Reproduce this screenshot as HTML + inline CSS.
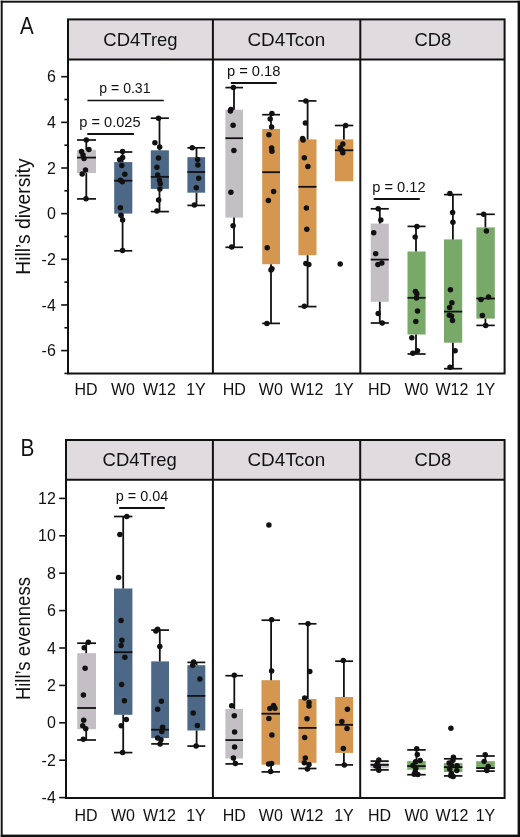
<!DOCTYPE html><html><head><meta charset="utf-8"><style>html,body{margin:0;padding:0;background:#fff;width:520px;height:837px;overflow:hidden}svg{display:block;will-change:transform}text{font-family:"Liberation Sans",sans-serif;fill:#111}</style></head><body>
<svg width="520" height="837" viewBox="0 0 520 837">
<rect x="0" y="0" width="520" height="837" fill="#fff"/>
<rect x="68" y="19.4" width="436.6" height="40.1" fill="#e0dbdf"/>
<text x="140.5" y="45.8" font-size="19" text-anchor="middle" textLength="74.3" lengthAdjust="spacingAndGlyphs">CD4Treg</text>
<text x="286.3" y="45.8" font-size="19" text-anchor="middle" textLength="77.8" lengthAdjust="spacingAndGlyphs">CD4Tcon</text>
<text x="432.8" y="45.8" font-size="19" text-anchor="middle" textLength="36.7" lengthAdjust="spacingAndGlyphs">CD8</text>
<line x1="64.4" y1="373.425" x2="68" y2="373.425" stroke="#111111" stroke-width="1.6"/>
<line x1="61.2" y1="350.6" x2="68" y2="350.6" stroke="#111111" stroke-width="1.6"/>
<text x="55.8" y="356.20000000000005" font-size="16" text-anchor="end">-6</text>
<line x1="64.4" y1="327.775" x2="68" y2="327.775" stroke="#111111" stroke-width="1.6"/>
<line x1="61.2" y1="304.95" x2="68" y2="304.95" stroke="#111111" stroke-width="1.6"/>
<text x="55.8" y="310.55" font-size="16" text-anchor="end">-4</text>
<line x1="64.4" y1="282.125" x2="68" y2="282.125" stroke="#111111" stroke-width="1.6"/>
<line x1="61.2" y1="259.3" x2="68" y2="259.3" stroke="#111111" stroke-width="1.6"/>
<text x="55.8" y="264.90000000000003" font-size="16" text-anchor="end">-2</text>
<line x1="64.4" y1="236.475" x2="68" y2="236.475" stroke="#111111" stroke-width="1.6"/>
<line x1="61.2" y1="213.65" x2="68" y2="213.65" stroke="#111111" stroke-width="1.6"/>
<text x="55.8" y="219.25" font-size="16" text-anchor="end">0</text>
<line x1="64.4" y1="190.82500000000002" x2="68" y2="190.82500000000002" stroke="#111111" stroke-width="1.6"/>
<line x1="61.2" y1="168.0" x2="68" y2="168.0" stroke="#111111" stroke-width="1.6"/>
<text x="55.8" y="173.6" font-size="16" text-anchor="end">2</text>
<line x1="64.4" y1="145.175" x2="68" y2="145.175" stroke="#111111" stroke-width="1.6"/>
<line x1="61.2" y1="122.35000000000001" x2="68" y2="122.35000000000001" stroke="#111111" stroke-width="1.6"/>
<text x="55.8" y="127.95" font-size="16" text-anchor="end">4</text>
<line x1="64.4" y1="99.525" x2="68" y2="99.525" stroke="#111111" stroke-width="1.6"/>
<line x1="61.2" y1="76.70000000000002" x2="68" y2="76.70000000000002" stroke="#111111" stroke-width="1.6"/>
<text x="55.8" y="82.30000000000001" font-size="16" text-anchor="end">6</text>
<text transform="translate(29.7,216.6) rotate(-90)" x="0" y="0" font-size="20.5" text-anchor="middle" textLength="116.4" lengthAdjust="spacingAndGlyphs">Hill’s diversity</text>
<text x="20.1" y="34.1" font-size="23" textLength="13.7" lengthAdjust="spacingAndGlyphs">A</text>
<rect x="77" y="150" width="19.00" height="23.00" fill="#c4bfc5"/>
<line x1="86.3" y1="140" x2="86.3" y2="150" stroke="#111111" stroke-width="1.8"/>
<line x1="77" y1="140" x2="96" y2="140" stroke="#111111" stroke-width="1.7"/>
<line x1="86.3" y1="173" x2="86.3" y2="198.9" stroke="#111111" stroke-width="1.8"/>
<line x1="77" y1="198.9" x2="96" y2="198.9" stroke="#111111" stroke-width="1.7"/>
<line x1="77" y1="157.6" x2="96" y2="157.6" stroke="#111111" stroke-width="1.8"/>
<circle cx="86.3" cy="140" r="2.75" fill="#111111"/>
<circle cx="88.9" cy="149.6" r="2.75" fill="#111111"/>
<circle cx="81.5" cy="151.5" r="2.75" fill="#111111"/>
<circle cx="83" cy="155" r="2.75" fill="#111111"/>
<circle cx="84" cy="158.5" r="2.75" fill="#111111"/>
<circle cx="85.5" cy="170" r="2.75" fill="#111111"/>
<circle cx="82.2" cy="174" r="2.75" fill="#111111"/>
<circle cx="86" cy="198.8" r="2.75" fill="#111111"/>
<rect x="114.2" y="162.1" width="18.10" height="51.50" fill="#4d6886"/>
<line x1="122.6" y1="152" x2="122.6" y2="162.1" stroke="#111111" stroke-width="1.8"/>
<line x1="114.2" y1="152" x2="132.3" y2="152" stroke="#111111" stroke-width="1.7"/>
<line x1="122.6" y1="213.6" x2="122.6" y2="250.8" stroke="#111111" stroke-width="1.8"/>
<line x1="114.2" y1="250.8" x2="132.3" y2="250.8" stroke="#111111" stroke-width="1.7"/>
<line x1="114.2" y1="180.7" x2="132.3" y2="180.7" stroke="#111111" stroke-width="1.8"/>
<circle cx="122.6" cy="151.4" r="2.75" fill="#111111"/>
<circle cx="122.6" cy="157.6" r="2.75" fill="#111111"/>
<circle cx="119.7" cy="159.7" r="2.75" fill="#111111"/>
<circle cx="121.8" cy="165.4" r="2.75" fill="#111111"/>
<circle cx="124.8" cy="174.3" r="2.75" fill="#111111"/>
<circle cx="120.4" cy="180.2" r="2.75" fill="#111111"/>
<circle cx="122.3" cy="181.8" r="2.75" fill="#111111"/>
<circle cx="120.4" cy="207.8" r="2.75" fill="#111111"/>
<circle cx="120.9" cy="215.3" r="2.75" fill="#111111"/>
<circle cx="122.6" cy="220" r="2.75" fill="#111111"/>
<circle cx="122.6" cy="250.5" r="2.75" fill="#111111"/>
<rect x="150.8" y="150.3" width="18.10" height="38.60" fill="#4d6886"/>
<line x1="159.5" y1="118.2" x2="159.5" y2="150.3" stroke="#111111" stroke-width="1.8"/>
<line x1="150.8" y1="118.2" x2="168.9" y2="118.2" stroke="#111111" stroke-width="1.7"/>
<line x1="159.5" y1="188.9" x2="159.5" y2="211.6" stroke="#111111" stroke-width="1.8"/>
<line x1="150.8" y1="211.6" x2="168.9" y2="211.6" stroke="#111111" stroke-width="1.7"/>
<line x1="150.8" y1="176.8" x2="168.9" y2="176.8" stroke="#111111" stroke-width="1.8"/>
<circle cx="158.5" cy="118.2" r="2.75" fill="#111111"/>
<circle cx="154.9" cy="142.8" r="2.75" fill="#111111"/>
<circle cx="159.7" cy="146.9" r="2.75" fill="#111111"/>
<circle cx="158.5" cy="158" r="2.75" fill="#111111"/>
<circle cx="156.9" cy="167.2" r="2.75" fill="#111111"/>
<circle cx="157.7" cy="175.1" r="2.75" fill="#111111"/>
<circle cx="159.4" cy="180.2" r="2.75" fill="#111111"/>
<circle cx="160.3" cy="183.8" r="2.75" fill="#111111"/>
<circle cx="159.9" cy="188.9" r="2.75" fill="#111111"/>
<circle cx="158.6" cy="199.9" r="2.75" fill="#111111"/>
<circle cx="156.9" cy="211.1" r="2.75" fill="#111111"/>
<rect x="187.4" y="157.2" width="17.70" height="35.50" fill="#4d6886"/>
<line x1="196.5" y1="147.8" x2="196.5" y2="157.2" stroke="#111111" stroke-width="1.8"/>
<line x1="187.4" y1="147.8" x2="205.1" y2="147.8" stroke="#111111" stroke-width="1.7"/>
<line x1="196.5" y1="192.7" x2="196.5" y2="205.4" stroke="#111111" stroke-width="1.8"/>
<line x1="187.4" y1="205.4" x2="205.1" y2="205.4" stroke="#111111" stroke-width="1.7"/>
<line x1="187.4" y1="172" x2="205.1" y2="172" stroke="#111111" stroke-width="1.8"/>
<circle cx="192.2" cy="147.8" r="2.75" fill="#111111"/>
<circle cx="197.6" cy="159.4" r="2.75" fill="#111111"/>
<circle cx="197.9" cy="165" r="2.75" fill="#111111"/>
<circle cx="198.7" cy="178.2" r="2.75" fill="#111111"/>
<circle cx="196.3" cy="187.8" r="2.75" fill="#111111"/>
<circle cx="194.4" cy="205" r="2.75" fill="#111111"/>
<text x="99.3" y="93.1" font-size="14" textLength="51.2" lengthAdjust="spacingAndGlyphs">p = 0.31</text>
<line x1="87.5" y1="100.5" x2="163.8" y2="100.5" stroke="#111111" stroke-width="1.7"/>
<text x="79.3" y="126.5" font-size="14" textLength="61.3" lengthAdjust="spacingAndGlyphs">p = 0.025</text>
<line x1="87.3" y1="134" x2="133.9" y2="134" stroke="#111111" stroke-width="1.9"/>
<rect x="225.4" y="109.7" width="17.60" height="107.90" fill="#c4bfc5"/>
<line x1="234" y1="87.6" x2="234" y2="109.7" stroke="#111111" stroke-width="1.8"/>
<line x1="225.4" y1="87.6" x2="243" y2="87.6" stroke="#111111" stroke-width="1.7"/>
<line x1="234" y1="217.6" x2="234" y2="247.3" stroke="#111111" stroke-width="1.8"/>
<line x1="225.4" y1="247.3" x2="243" y2="247.3" stroke="#111111" stroke-width="1.7"/>
<line x1="225.4" y1="138.2" x2="243" y2="138.2" stroke="#111111" stroke-width="1.8"/>
<circle cx="233.4" cy="87.6" r="2.75" fill="#111111"/>
<circle cx="230.9" cy="109.4" r="2.75" fill="#111111"/>
<circle cx="230.4" cy="111" r="2.75" fill="#111111"/>
<circle cx="233.1" cy="125.3" r="2.75" fill="#111111"/>
<circle cx="233.9" cy="150.4" r="2.75" fill="#111111"/>
<circle cx="230.9" cy="192.2" r="2.75" fill="#111111"/>
<circle cx="233.1" cy="225.7" r="2.75" fill="#111111"/>
<circle cx="231.7" cy="246.9" r="2.75" fill="#111111"/>
<rect x="262.2" y="129" width="17.80" height="135.20" fill="#d5974f"/>
<line x1="271" y1="114.7" x2="271" y2="129" stroke="#111111" stroke-width="1.8"/>
<line x1="262.2" y1="114.7" x2="280" y2="114.7" stroke="#111111" stroke-width="1.7"/>
<line x1="271" y1="264.2" x2="271" y2="323.4" stroke="#111111" stroke-width="1.8"/>
<line x1="262.2" y1="323.4" x2="280" y2="323.4" stroke="#111111" stroke-width="1.7"/>
<line x1="262.2" y1="172.2" x2="280" y2="172.2" stroke="#111111" stroke-width="1.8"/>
<circle cx="271.9" cy="113.6" r="2.75" fill="#111111"/>
<circle cx="270.2" cy="118.9" r="2.75" fill="#111111"/>
<circle cx="271.6" cy="127" r="2.75" fill="#111111"/>
<circle cx="268.9" cy="134.8" r="2.75" fill="#111111"/>
<circle cx="271.6" cy="147.9" r="2.75" fill="#111111"/>
<circle cx="271.9" cy="151.2" r="2.75" fill="#111111"/>
<circle cx="273.6" cy="191.5" r="2.75" fill="#111111"/>
<circle cx="268.4" cy="200.5" r="2.75" fill="#111111"/>
<circle cx="267.2" cy="247.8" r="2.75" fill="#111111"/>
<circle cx="271.9" cy="268.7" r="2.75" fill="#111111"/>
<circle cx="271" cy="270" r="2.75" fill="#111111"/>
<circle cx="266.9" cy="323.4" r="2.75" fill="#111111"/>
<rect x="298.4" y="139.4" width="18.10" height="115.80" fill="#d5974f"/>
<line x1="307.6" y1="100.9" x2="307.6" y2="139.4" stroke="#111111" stroke-width="1.8"/>
<line x1="298.4" y1="100.9" x2="316.5" y2="100.9" stroke="#111111" stroke-width="1.7"/>
<line x1="307.6" y1="255.2" x2="307.6" y2="306.6" stroke="#111111" stroke-width="1.8"/>
<line x1="298.4" y1="306.6" x2="316.5" y2="306.6" stroke="#111111" stroke-width="1.7"/>
<line x1="298.4" y1="186.8" x2="316.5" y2="186.8" stroke="#111111" stroke-width="1.8"/>
<circle cx="305.9" cy="100.9" r="2.75" fill="#111111"/>
<circle cx="305.4" cy="123.1" r="2.75" fill="#111111"/>
<circle cx="302.6" cy="138.6" r="2.75" fill="#111111"/>
<circle cx="303.1" cy="139.9" r="2.75" fill="#111111"/>
<circle cx="304.3" cy="157.8" r="2.75" fill="#111111"/>
<circle cx="307.9" cy="166.5" r="2.75" fill="#111111"/>
<circle cx="306.4" cy="208" r="2.75" fill="#111111"/>
<circle cx="306.8" cy="229.3" r="2.75" fill="#111111"/>
<circle cx="305.9" cy="263.6" r="2.75" fill="#111111"/>
<circle cx="308.8" cy="264.5" r="2.75" fill="#111111"/>
<circle cx="304.3" cy="306.3" r="2.75" fill="#111111"/>
<rect x="334.9" y="139.4" width="18.40" height="41.80" fill="#d5974f"/>
<line x1="343.9" y1="125.5" x2="343.9" y2="139.4" stroke="#111111" stroke-width="1.8"/>
<line x1="334.9" y1="125.5" x2="353.3" y2="125.5" stroke="#111111" stroke-width="1.7"/>
<line x1="334.9" y1="150.3" x2="353.3" y2="150.3" stroke="#111111" stroke-width="1.8"/>
<circle cx="345.6" cy="125.5" r="2.75" fill="#111111"/>
<circle cx="342.8" cy="143.9" r="2.75" fill="#111111"/>
<circle cx="340.2" cy="147.8" r="2.75" fill="#111111"/>
<circle cx="341.9" cy="150.3" r="2.75" fill="#111111"/>
<circle cx="342.8" cy="152.8" r="2.75" fill="#111111"/>
<circle cx="340.2" cy="264.1" r="2.75" fill="#111111"/>
<text x="226.9" y="75.6" font-size="14" textLength="53.6" lengthAdjust="spacingAndGlyphs">p = 0.18</text>
<line x1="230.8" y1="83" x2="276.7" y2="83" stroke="#111111" stroke-width="1.9"/>
<rect x="370.7" y="223.6" width="18.10" height="78.20" fill="#c4bfc5"/>
<line x1="379.8" y1="208.8" x2="379.8" y2="223.6" stroke="#111111" stroke-width="1.8"/>
<line x1="370.7" y1="208.8" x2="388.8" y2="208.8" stroke="#111111" stroke-width="1.7"/>
<line x1="379.8" y1="301.8" x2="379.8" y2="323" stroke="#111111" stroke-width="1.8"/>
<line x1="370.7" y1="323" x2="388.8" y2="323" stroke="#111111" stroke-width="1.7"/>
<line x1="370.7" y1="259.6" x2="388.8" y2="259.6" stroke="#111111" stroke-width="1.8"/>
<circle cx="378.2" cy="208.8" r="2.75" fill="#111111"/>
<circle cx="380.8" cy="219.9" r="2.75" fill="#111111"/>
<circle cx="373.7" cy="232.8" r="2.75" fill="#111111"/>
<circle cx="375.7" cy="253.7" r="2.75" fill="#111111"/>
<circle cx="377.9" cy="264.6" r="2.75" fill="#111111"/>
<circle cx="381.8" cy="262.9" r="2.75" fill="#111111"/>
<circle cx="378.2" cy="313.5" r="2.75" fill="#111111"/>
<circle cx="382.2" cy="323" r="2.75" fill="#111111"/>
<rect x="407.5" y="251.5" width="18.10" height="83.00" fill="#79a969"/>
<line x1="416" y1="226.4" x2="416" y2="251.5" stroke="#111111" stroke-width="1.8"/>
<line x1="407.5" y1="226.4" x2="425.6" y2="226.4" stroke="#111111" stroke-width="1.7"/>
<line x1="416" y1="334.5" x2="416" y2="354" stroke="#111111" stroke-width="1.8"/>
<line x1="407.5" y1="354" x2="425.6" y2="354" stroke="#111111" stroke-width="1.7"/>
<line x1="407.5" y1="297.8" x2="425.6" y2="297.8" stroke="#111111" stroke-width="1.8"/>
<circle cx="416.9" cy="226.4" r="2.75" fill="#111111"/>
<circle cx="415.2" cy="237" r="2.75" fill="#111111"/>
<circle cx="415.4" cy="291.5" r="2.75" fill="#111111"/>
<circle cx="416.8" cy="293.7" r="2.75" fill="#111111"/>
<circle cx="416.5" cy="298" r="2.75" fill="#111111"/>
<circle cx="417.5" cy="311" r="2.75" fill="#111111"/>
<circle cx="415.8" cy="321.4" r="2.75" fill="#111111"/>
<circle cx="411.8" cy="337.7" r="2.75" fill="#111111"/>
<circle cx="417.5" cy="350.7" r="2.75" fill="#111111"/>
<circle cx="412.8" cy="353.3" r="2.75" fill="#111111"/>
<rect x="444" y="239.4" width="18.20" height="103.30" fill="#79a969"/>
<line x1="452.9" y1="194.6" x2="452.9" y2="239.4" stroke="#111111" stroke-width="1.8"/>
<line x1="444" y1="194.6" x2="462.2" y2="194.6" stroke="#111111" stroke-width="1.7"/>
<line x1="452.9" y1="342.7" x2="452.9" y2="368.7" stroke="#111111" stroke-width="1.8"/>
<line x1="444" y1="368.7" x2="462.2" y2="368.7" stroke="#111111" stroke-width="1.7"/>
<line x1="444" y1="311.6" x2="462.2" y2="311.6" stroke="#111111" stroke-width="1.8"/>
<circle cx="449.9" cy="193.4" r="2.75" fill="#111111"/>
<circle cx="452.6" cy="212.6" r="2.75" fill="#111111"/>
<circle cx="452.9" cy="222.2" r="2.75" fill="#111111"/>
<circle cx="450.4" cy="289.7" r="2.75" fill="#111111"/>
<circle cx="451.9" cy="302.8" r="2.75" fill="#111111"/>
<circle cx="449.6" cy="307.4" r="2.75" fill="#111111"/>
<circle cx="449.3" cy="315.3" r="2.75" fill="#111111"/>
<circle cx="451.5" cy="316.1" r="2.75" fill="#111111"/>
<circle cx="452.5" cy="320.4" r="2.75" fill="#111111"/>
<circle cx="455.1" cy="350.7" r="2.75" fill="#111111"/>
<circle cx="450" cy="367.3" r="2.75" fill="#111111"/>
<rect x="476.4" y="227.4" width="18.40" height="91.20" fill="#79a969"/>
<line x1="485.4" y1="214.3" x2="485.4" y2="227.4" stroke="#111111" stroke-width="1.8"/>
<line x1="476.4" y1="214.3" x2="494.8" y2="214.3" stroke="#111111" stroke-width="1.7"/>
<line x1="485.4" y1="318.6" x2="485.4" y2="325.4" stroke="#111111" stroke-width="1.8"/>
<line x1="476.4" y1="325.4" x2="494.8" y2="325.4" stroke="#111111" stroke-width="1.7"/>
<line x1="476.4" y1="298.5" x2="494.8" y2="298.5" stroke="#111111" stroke-width="1.8"/>
<circle cx="483.6" cy="214.3" r="2.75" fill="#111111"/>
<circle cx="486.4" cy="231.1" r="2.75" fill="#111111"/>
<circle cx="481" cy="299.5" r="2.75" fill="#111111"/>
<circle cx="488.5" cy="297" r="2.75" fill="#111111"/>
<circle cx="482.4" cy="315.4" r="2.75" fill="#111111"/>
<circle cx="485.7" cy="325.4" r="2.75" fill="#111111"/>
<text x="372.2" y="191.8" font-size="14" textLength="53.4" lengthAdjust="spacingAndGlyphs">p = 0.12</text>
<line x1="373.7" y1="199" x2="419.8" y2="199" stroke="#111111" stroke-width="1.9"/>
<g stroke="#111111" stroke-width="2" fill="none">
<rect x="68" y="19.4" width="436.6" height="354.1"/>
<line x1="68" y1="59.5" x2="504.6" y2="59.5"/>
<line x1="212.9" y1="19.4" x2="212.9" y2="373.5"/>
<line x1="360.3" y1="19.4" x2="360.3" y2="373.5"/>
</g>
<text x="86.0" y="395" font-size="16" text-anchor="middle">HD</text>
<text x="123" y="395" font-size="16" text-anchor="middle">W0</text>
<text x="159.4" y="395" font-size="16" text-anchor="middle">W12</text>
<text x="196" y="395" font-size="16" text-anchor="middle">1Y</text>
<text x="234.3" y="395" font-size="16" text-anchor="middle">HD</text>
<text x="270.8" y="395" font-size="16" text-anchor="middle">W0</text>
<text x="306.9" y="395" font-size="16" text-anchor="middle">W12</text>
<text x="344" y="395" font-size="16" text-anchor="middle">1Y</text>
<text x="379.6" y="395" font-size="16" text-anchor="middle">HD</text>
<text x="416.5" y="395" font-size="16" text-anchor="middle">W0</text>
<text x="451.9" y="395" font-size="16" text-anchor="middle">W12</text>
<text x="485.5" y="395" font-size="16" text-anchor="middle">1Y</text>
<rect x="66" y="440" width="438.6" height="39.80000000000001" fill="#e0dbdf"/>
<text x="139.7" y="466.4" font-size="19" text-anchor="middle" textLength="74.3" lengthAdjust="spacingAndGlyphs">CD4Treg</text>
<text x="286.3" y="466.4" font-size="19" text-anchor="middle" textLength="77.8" lengthAdjust="spacingAndGlyphs">CD4Tcon</text>
<text x="432.8" y="466.4" font-size="19" text-anchor="middle" textLength="36.7" lengthAdjust="spacingAndGlyphs">CD8</text>
<line x1="59.2" y1="797.5999999999999" x2="66" y2="797.5999999999999" stroke="#111111" stroke-width="1.6"/>
<text x="55.8" y="803.1999999999999" font-size="16" text-anchor="end">-4</text>
<line x1="59.2" y1="760.1999999999999" x2="66" y2="760.1999999999999" stroke="#111111" stroke-width="1.6"/>
<text x="55.8" y="765.8" font-size="16" text-anchor="end">-2</text>
<line x1="59.2" y1="722.8" x2="66" y2="722.8" stroke="#111111" stroke-width="1.6"/>
<text x="55.8" y="728.4" font-size="16" text-anchor="end">0</text>
<line x1="59.2" y1="685.4" x2="66" y2="685.4" stroke="#111111" stroke-width="1.6"/>
<text x="55.8" y="691.0" font-size="16" text-anchor="end">2</text>
<line x1="59.2" y1="648.0" x2="66" y2="648.0" stroke="#111111" stroke-width="1.6"/>
<text x="55.8" y="653.6" font-size="16" text-anchor="end">4</text>
<line x1="59.2" y1="610.5999999999999" x2="66" y2="610.5999999999999" stroke="#111111" stroke-width="1.6"/>
<text x="55.8" y="616.1999999999999" font-size="16" text-anchor="end">6</text>
<line x1="59.2" y1="573.1999999999999" x2="66" y2="573.1999999999999" stroke="#111111" stroke-width="1.6"/>
<text x="55.8" y="578.8" font-size="16" text-anchor="end">8</text>
<line x1="59.2" y1="535.8" x2="66" y2="535.8" stroke="#111111" stroke-width="1.6"/>
<text x="55.8" y="541.4" font-size="16" text-anchor="end">10</text>
<line x1="59.2" y1="498.4" x2="66" y2="498.4" stroke="#111111" stroke-width="1.6"/>
<text x="55.8" y="504.0" font-size="16" text-anchor="end">12</text>
<text transform="translate(29.7,638.6) rotate(-90)" x="0" y="0" font-size="20.5" text-anchor="middle" textLength="123.0" lengthAdjust="spacingAndGlyphs">Hill’s evenness</text>
<text x="20.4" y="456.0" font-size="23" textLength="13.9" lengthAdjust="spacingAndGlyphs">B</text>
<rect x="77.2" y="653.2" width="18.80" height="76.00" fill="#c4bfc5"/>
<line x1="86.2" y1="643.2" x2="86.2" y2="653.2" stroke="#111111" stroke-width="1.8"/>
<line x1="77.2" y1="643.2" x2="96" y2="643.2" stroke="#111111" stroke-width="1.7"/>
<line x1="86.2" y1="729.2" x2="86.2" y2="740" stroke="#111111" stroke-width="1.8"/>
<line x1="77.2" y1="740" x2="96" y2="740" stroke="#111111" stroke-width="1.7"/>
<line x1="77.2" y1="708" x2="96" y2="708" stroke="#111111" stroke-width="1.8"/>
<circle cx="88.4" cy="642.2" r="2.75" fill="#111111"/>
<circle cx="84.2" cy="647.7" r="2.75" fill="#111111"/>
<circle cx="85.1" cy="668.3" r="2.75" fill="#111111"/>
<circle cx="83.4" cy="695.1" r="2.75" fill="#111111"/>
<circle cx="83.7" cy="720.3" r="2.75" fill="#111111"/>
<circle cx="82.7" cy="725.8" r="2.75" fill="#111111"/>
<circle cx="85.7" cy="728.8" r="2.75" fill="#111111"/>
<circle cx="83.3" cy="739.2" r="2.75" fill="#111111"/>
<rect x="114" y="588.5" width="18.40" height="126.30" fill="#4d6886"/>
<line x1="123.2" y1="516.5" x2="123.2" y2="588.5" stroke="#111111" stroke-width="1.8"/>
<line x1="114" y1="516.5" x2="132.4" y2="516.5" stroke="#111111" stroke-width="1.7"/>
<line x1="123.2" y1="714.8" x2="123.2" y2="752.6" stroke="#111111" stroke-width="1.8"/>
<line x1="114" y1="752.6" x2="132.4" y2="752.6" stroke="#111111" stroke-width="1.7"/>
<line x1="114" y1="652.2" x2="132.4" y2="652.2" stroke="#111111" stroke-width="1.8"/>
<circle cx="126.8" cy="516.4" r="2.75" fill="#111111"/>
<circle cx="119.9" cy="534.4" r="2.75" fill="#111111"/>
<circle cx="118.6" cy="577.4" r="2.75" fill="#111111"/>
<circle cx="121.1" cy="620.5" r="2.75" fill="#111111"/>
<circle cx="121.9" cy="640.2" r="2.75" fill="#111111"/>
<circle cx="121.1" cy="645.5" r="2.75" fill="#111111"/>
<circle cx="124.9" cy="657.3" r="2.75" fill="#111111"/>
<circle cx="121.6" cy="684.5" r="2.75" fill="#111111"/>
<circle cx="124.4" cy="700.8" r="2.75" fill="#111111"/>
<circle cx="126.3" cy="719.6" r="2.75" fill="#111111"/>
<circle cx="121.2" cy="725.7" r="2.75" fill="#111111"/>
<circle cx="122.6" cy="752.6" r="2.75" fill="#111111"/>
<rect x="151.2" y="661.4" width="17.80" height="76.70" fill="#4d6886"/>
<line x1="159.8" y1="630.1" x2="159.8" y2="661.4" stroke="#111111" stroke-width="1.8"/>
<line x1="151.2" y1="630.1" x2="169" y2="630.1" stroke="#111111" stroke-width="1.7"/>
<line x1="159.8" y1="738.1" x2="159.8" y2="743.9" stroke="#111111" stroke-width="1.8"/>
<line x1="151.2" y1="743.9" x2="169" y2="743.9" stroke="#111111" stroke-width="1.7"/>
<line x1="151.2" y1="729.7" x2="169" y2="729.7" stroke="#111111" stroke-width="1.8"/>
<circle cx="157.6" cy="629.3" r="2.75" fill="#111111"/>
<circle cx="155.9" cy="630.9" r="2.75" fill="#111111"/>
<circle cx="159.8" cy="646.5" r="2.75" fill="#111111"/>
<circle cx="161.4" cy="701.2" r="2.75" fill="#111111"/>
<circle cx="157.6" cy="709.3" r="2.75" fill="#111111"/>
<circle cx="162.6" cy="727.2" r="2.75" fill="#111111"/>
<circle cx="161.8" cy="731.4" r="2.75" fill="#111111"/>
<circle cx="157.6" cy="738.1" r="2.75" fill="#111111"/>
<circle cx="160.9" cy="739.8" r="2.75" fill="#111111"/>
<circle cx="160.1" cy="743.9" r="2.75" fill="#111111"/>
<rect x="187.4" y="665.2" width="17.90" height="65.30" fill="#4d6886"/>
<line x1="196.6" y1="662.4" x2="196.6" y2="665.2" stroke="#111111" stroke-width="1.8"/>
<line x1="187.4" y1="662.4" x2="205.3" y2="662.4" stroke="#111111" stroke-width="1.7"/>
<line x1="196.6" y1="730.5" x2="196.6" y2="746.1" stroke="#111111" stroke-width="1.8"/>
<line x1="187.4" y1="746.1" x2="205.3" y2="746.1" stroke="#111111" stroke-width="1.7"/>
<line x1="187.4" y1="695.9" x2="205.3" y2="695.9" stroke="#111111" stroke-width="1.8"/>
<circle cx="193.6" cy="661.9" r="2.75" fill="#111111"/>
<circle cx="192.7" cy="665.2" r="2.75" fill="#111111"/>
<circle cx="199.9" cy="679.1" r="2.75" fill="#111111"/>
<circle cx="193.2" cy="713" r="2.75" fill="#111111"/>
<circle cx="197.4" cy="725.5" r="2.75" fill="#111111"/>
<circle cx="196.1" cy="746.1" r="2.75" fill="#111111"/>
<text x="115.8" y="500.9" font-size="14" textLength="52.6" lengthAdjust="spacingAndGlyphs">p = 0.04</text>
<line x1="119.2" y1="508" x2="164.8" y2="508" stroke="#111111" stroke-width="1.9"/>
<rect x="225.4" y="709" width="17.60" height="49.50" fill="#c4bfc5"/>
<line x1="234.3" y1="675.7" x2="234.3" y2="709" stroke="#111111" stroke-width="1.8"/>
<line x1="225.4" y1="675.7" x2="243" y2="675.7" stroke="#111111" stroke-width="1.7"/>
<line x1="234.3" y1="758.5" x2="234.3" y2="763.9" stroke="#111111" stroke-width="1.8"/>
<line x1="225.4" y1="763.9" x2="243" y2="763.9" stroke="#111111" stroke-width="1.7"/>
<line x1="225.4" y1="740.1" x2="243" y2="740.1" stroke="#111111" stroke-width="1.8"/>
<circle cx="234.3" cy="675.2" r="2.75" fill="#111111"/>
<circle cx="231.7" cy="705.8" r="2.75" fill="#111111"/>
<circle cx="234.3" cy="715.7" r="2.75" fill="#111111"/>
<circle cx="234.6" cy="732.1" r="2.75" fill="#111111"/>
<circle cx="234.6" cy="747.1" r="2.75" fill="#111111"/>
<circle cx="233.4" cy="758" r="2.75" fill="#111111"/>
<circle cx="235.4" cy="763.6" r="2.75" fill="#111111"/>
<rect x="261.5" y="680.2" width="18.50" height="84.50" fill="#d5974f"/>
<line x1="271.1" y1="620.2" x2="271.1" y2="680.2" stroke="#111111" stroke-width="1.8"/>
<line x1="261.5" y1="620.2" x2="280" y2="620.2" stroke="#111111" stroke-width="1.7"/>
<line x1="271.1" y1="764.7" x2="271.1" y2="771.9" stroke="#111111" stroke-width="1.8"/>
<line x1="261.5" y1="771.9" x2="280" y2="771.9" stroke="#111111" stroke-width="1.7"/>
<line x1="261.5" y1="713.7" x2="280" y2="713.7" stroke="#111111" stroke-width="1.8"/>
<circle cx="268.9" cy="525.1" r="2.75" fill="#111111"/>
<circle cx="271.6" cy="619.7" r="2.75" fill="#111111"/>
<circle cx="271.6" cy="671" r="2.75" fill="#111111"/>
<circle cx="273.6" cy="705.6" r="2.75" fill="#111111"/>
<circle cx="269.9" cy="708.6" r="2.75" fill="#111111"/>
<circle cx="274.9" cy="708.3" r="2.75" fill="#111111"/>
<circle cx="268.9" cy="718.4" r="2.75" fill="#111111"/>
<circle cx="271.9" cy="734.9" r="2.75" fill="#111111"/>
<circle cx="268.6" cy="763.9" r="2.75" fill="#111111"/>
<circle cx="271.6" cy="763.6" r="2.75" fill="#111111"/>
<circle cx="270.6" cy="771.4" r="2.75" fill="#111111"/>
<rect x="298.4" y="699" width="18.10" height="63.80" fill="#d5974f"/>
<line x1="307.8" y1="623.8" x2="307.8" y2="699" stroke="#111111" stroke-width="1.8"/>
<line x1="298.4" y1="623.8" x2="316.5" y2="623.8" stroke="#111111" stroke-width="1.7"/>
<line x1="307.8" y1="762.8" x2="307.8" y2="768.5" stroke="#111111" stroke-width="1.8"/>
<line x1="298.4" y1="768.5" x2="316.5" y2="768.5" stroke="#111111" stroke-width="1.7"/>
<line x1="298.4" y1="727.9" x2="316.5" y2="727.9" stroke="#111111" stroke-width="1.8"/>
<circle cx="308" cy="623.8" r="2.75" fill="#111111"/>
<circle cx="309.8" cy="671.4" r="2.75" fill="#111111"/>
<circle cx="304.7" cy="698" r="2.75" fill="#111111"/>
<circle cx="309" cy="702.5" r="2.75" fill="#111111"/>
<circle cx="309" cy="706.1" r="2.75" fill="#111111"/>
<circle cx="307" cy="718.7" r="2.75" fill="#111111"/>
<circle cx="304.7" cy="737.4" r="2.75" fill="#111111"/>
<circle cx="305.3" cy="758" r="2.75" fill="#111111"/>
<circle cx="304.3" cy="762.8" r="2.75" fill="#111111"/>
<circle cx="309" cy="764.5" r="2.75" fill="#111111"/>
<circle cx="307.4" cy="768.9" r="2.75" fill="#111111"/>
<rect x="335.2" y="697" width="17.90" height="55.90" fill="#d5974f"/>
<line x1="343.9" y1="661.2" x2="343.9" y2="697" stroke="#111111" stroke-width="1.8"/>
<line x1="335.2" y1="661.2" x2="353.1" y2="661.2" stroke="#111111" stroke-width="1.7"/>
<line x1="343.9" y1="752.9" x2="343.9" y2="764.9" stroke="#111111" stroke-width="1.8"/>
<line x1="335.2" y1="764.9" x2="353.1" y2="764.9" stroke="#111111" stroke-width="1.7"/>
<line x1="335.2" y1="724.8" x2="353.1" y2="724.8" stroke="#111111" stroke-width="1.8"/>
<circle cx="343.3" cy="660.4" r="2.75" fill="#111111"/>
<circle cx="347.4" cy="709.2" r="2.75" fill="#111111"/>
<circle cx="341.9" cy="721.4" r="2.75" fill="#111111"/>
<circle cx="347" cy="728.5" r="2.75" fill="#111111"/>
<circle cx="343.3" cy="748.6" r="2.75" fill="#111111"/>
<circle cx="344.3" cy="764.9" r="2.75" fill="#111111"/>
<rect x="370.5" y="762.5" width="18.30" height="5.80" fill="#c4bfc5"/>
<line x1="379.5" y1="761.1" x2="379.5" y2="762.5" stroke="#111111" stroke-width="1.8"/>
<line x1="370.5" y1="761.1" x2="388.8" y2="761.1" stroke="#111111" stroke-width="1.7"/>
<line x1="379.5" y1="768.3" x2="379.5" y2="769.9" stroke="#111111" stroke-width="1.8"/>
<line x1="370.5" y1="769.9" x2="388.8" y2="769.9" stroke="#111111" stroke-width="1.7"/>
<line x1="370.5" y1="764.9" x2="388.8" y2="764.9" stroke="#111111" stroke-width="1.8"/>
<circle cx="378.8" cy="760.0" r="2.75" fill="#111111"/>
<circle cx="377.4" cy="763.7" r="2.75" fill="#111111"/>
<circle cx="375.9" cy="766" r="2.75" fill="#111111"/>
<circle cx="378.3" cy="767.1" r="2.75" fill="#111111"/>
<circle cx="378.8" cy="770.3" r="2.75" fill="#111111"/>
<rect x="407.2" y="761.1" width="18.50" height="8.60" fill="#79a969"/>
<line x1="416.5" y1="749.9" x2="416.5" y2="761.1" stroke="#111111" stroke-width="1.8"/>
<line x1="407.2" y1="749.9" x2="425.7" y2="749.9" stroke="#111111" stroke-width="1.7"/>
<line x1="416.5" y1="769.7" x2="416.5" y2="774.7" stroke="#111111" stroke-width="1.8"/>
<line x1="407.2" y1="774.7" x2="425.7" y2="774.7" stroke="#111111" stroke-width="1.7"/>
<line x1="407.2" y1="766.1" x2="425.7" y2="766.1" stroke="#111111" stroke-width="1.8"/>
<circle cx="416.7" cy="748.7" r="2.75" fill="#111111"/>
<circle cx="417.3" cy="754.4" r="2.75" fill="#111111"/>
<circle cx="420.2" cy="760.4" r="2.75" fill="#111111"/>
<circle cx="415.6" cy="761.8" r="2.75" fill="#111111"/>
<circle cx="413" cy="765.5" r="2.75" fill="#111111"/>
<circle cx="415.8" cy="768.2" r="2.75" fill="#111111"/>
<circle cx="415.2" cy="771.8" r="2.75" fill="#111111"/>
<circle cx="417.8" cy="774.6" r="2.75" fill="#111111"/>
<circle cx="414.2" cy="774.2" r="2.75" fill="#111111"/>
<rect x="443.9" y="763.1" width="18.50" height="8.90" fill="#79a969"/>
<line x1="453" y1="758.8" x2="453" y2="763.1" stroke="#111111" stroke-width="1.8"/>
<line x1="443.9" y1="758.8" x2="462.4" y2="758.8" stroke="#111111" stroke-width="1.7"/>
<line x1="453" y1="772" x2="453" y2="775.9" stroke="#111111" stroke-width="1.8"/>
<line x1="443.9" y1="775.9" x2="462.4" y2="775.9" stroke="#111111" stroke-width="1.7"/>
<line x1="443.9" y1="767.1" x2="462.4" y2="767.1" stroke="#111111" stroke-width="1.8"/>
<circle cx="450.9" cy="728.3" r="2.75" fill="#111111"/>
<circle cx="453.4" cy="757.3" r="2.75" fill="#111111"/>
<circle cx="452.9" cy="760.2" r="2.75" fill="#111111"/>
<circle cx="449.1" cy="763.1" r="2.75" fill="#111111"/>
<circle cx="451.4" cy="765.4" r="2.75" fill="#111111"/>
<circle cx="457" cy="765.8" r="2.75" fill="#111111"/>
<circle cx="449.7" cy="768.9" r="2.75" fill="#111111"/>
<circle cx="456.8" cy="770.6" r="2.75" fill="#111111"/>
<circle cx="451.4" cy="773.5" r="2.75" fill="#111111"/>
<circle cx="453.2" cy="776.4" r="2.75" fill="#111111"/>
<circle cx="450.8" cy="775.8" r="2.75" fill="#111111"/>
<rect x="476.2" y="761.2" width="18.60" height="6.90" fill="#79a969"/>
<line x1="485.3" y1="756" x2="485.3" y2="761.2" stroke="#111111" stroke-width="1.8"/>
<line x1="476.2" y1="756" x2="494.8" y2="756" stroke="#111111" stroke-width="1.7"/>
<line x1="485.3" y1="768.1" x2="485.3" y2="771.1" stroke="#111111" stroke-width="1.8"/>
<line x1="476.2" y1="771.1" x2="494.8" y2="771.1" stroke="#111111" stroke-width="1.7"/>
<line x1="476.2" y1="768.1" x2="494.8" y2="768.1" stroke="#111111" stroke-width="1.8"/>
<circle cx="485.2" cy="754.8" r="2.75" fill="#111111"/>
<circle cx="484.1" cy="761.4" r="2.75" fill="#111111"/>
<circle cx="488.2" cy="766.4" r="2.75" fill="#111111"/>
<circle cx="486.9" cy="770.4" r="2.75" fill="#111111"/>
<g stroke="#111111" stroke-width="2" fill="none">
<rect x="66" y="440" width="438.6" height="358"/>
<line x1="66" y1="479.8" x2="504.6" y2="479.8"/>
<line x1="212.9" y1="440" x2="212.9" y2="798"/>
<line x1="360.2" y1="440" x2="360.2" y2="798"/>
</g>
<text x="86.0" y="820.8" font-size="16" text-anchor="middle">HD</text>
<text x="123" y="820.8" font-size="16" text-anchor="middle">W0</text>
<text x="159.4" y="820.8" font-size="16" text-anchor="middle">W12</text>
<text x="196" y="820.8" font-size="16" text-anchor="middle">1Y</text>
<text x="234.3" y="820.8" font-size="16" text-anchor="middle">HD</text>
<text x="270.8" y="820.8" font-size="16" text-anchor="middle">W0</text>
<text x="306.9" y="820.8" font-size="16" text-anchor="middle">W12</text>
<text x="344" y="820.8" font-size="16" text-anchor="middle">1Y</text>
<text x="379.6" y="820.8" font-size="16" text-anchor="middle">HD</text>
<text x="416.5" y="820.8" font-size="16" text-anchor="middle">W0</text>
<text x="451.9" y="820.8" font-size="16" text-anchor="middle">W12</text>
<text x="485.5" y="820.8" font-size="16" text-anchor="middle">1Y</text>
<rect x="0.72" y="0.72" width="1.95" height="836.28" fill="#111111"/>
<rect x="0.72" y="0.72" width="519.28" height="1.95" fill="#111111"/>
<rect x="517.6" y="0.8" width="2.4" height="836.2" fill="#111111"/>
<rect x="0.8" y="834.6" width="519.2" height="2.4" fill="#111111"/>
</svg></body></html>
